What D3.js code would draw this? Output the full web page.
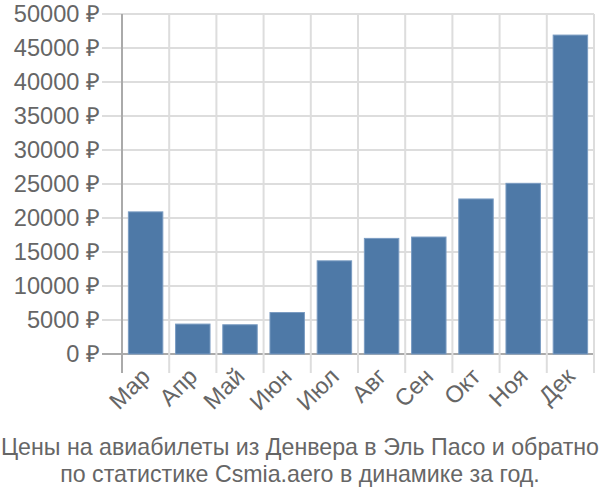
<!DOCTYPE html>
<html><head><meta charset="utf-8">
<script src="https://cdn.jsdelivr.net/npm/d3@7"></script>
<style>body{margin:0;background:#fff;} svg{display:block;font-family:"Liberation Sans",Arial,sans-serif;}</style>
</head><body>
<svg id="c" width="600" height="500"></svg>
<script>
const categories = ["Мар","Апр","Май","Июн","Июл","Авг","Сен","Окт","Ноя","Дек"];
const values = [20900, 4400, 4300, 6100, 13700, 17000, 17200, 22800, 25100, 46900];
const yTicks = [0,5000,10000,15000,20000,25000,30000,35000,40000,45000,50000];
const titleLines = ["Цены на авиабилеты из Денвера в Эль Пасо и обратно","по статистике Csmia.aero в динамике за год."];

(function(){
const svg = d3.select("#c");
const mLeft = 122, mRight = 594, mTop = 14, mBottom = 354;
const fs = 23.6;
const x = d3.scaleBand().domain(categories).range([mLeft, mRight]).paddingInner(0.27).paddingOuter(0.135);
const xb = d3.scaleBand().domain(categories).range([mLeft, mRight]);
const y = d3.scaleLinear().domain([0, 50000]).range([mBottom, mTop]);

// horizontal grid
svg.append("g").selectAll("line").data(yTicks).join("line")
  .attr("x1", 102).attr("x2", mRight).attr("y1", d=>y(d)).attr("y2", d=>y(d))
  .attr("stroke", d=> d===0 ? "#aaa" : "#ddd").attr("stroke-width", 2);
// vertical grid
const vx = categories.map(c=>xb(c)).concat([mRight]);
svg.append("g").selectAll("line").data(vx).join("line")
  .attr("x1", d=>d).attr("x2", d=>d).attr("y1", mTop).attr("y2", 373)
  .attr("stroke", (d,i)=> i===0 ? "#aaa" : "#ddd").attr("stroke-width", 2);

// bars
svg.append("g").selectAll("rect").data(values).join("rect")
  .attr("x", (d,i)=>x(categories[i])).attr("width", x.bandwidth())
  .attr("y", d=>y(d)).attr("height", d=>mBottom - y(d))
  .attr("fill", "#4e79a7").attr("stroke", "#7a9cc2").attr("stroke-width", 1);

// y labels
svg.append("g").selectAll("text").data(yTicks).join("text")
  .attr("x", 100).attr("y", d=>y(d)).attr("dy", "0.35em")
  .attr("text-anchor", "end").attr("fill", "#666").attr("font-size", fs)
  .text(d=> d + " ₽");

// x labels
svg.append("g").selectAll("text").data(categories).join("text")
  .attr("transform", d=>`translate(${xb(d)+xb.bandwidth()/2+6},${378}) rotate(-45)`)
  .attr("text-anchor", "end").attr("fill", "#666").attr("font-size", fs)
  .text(d=>d);

// title
svg.append("g").selectAll("text").data(titleLines).join("text")
  .attr("x", 300).attr("y", (d,i)=>455 + i*27)
  .attr("text-anchor", "middle").attr("fill", "#666").attr("font-size", 23.2)
  .text(d=>d);
})();
</script>
</body></html>
